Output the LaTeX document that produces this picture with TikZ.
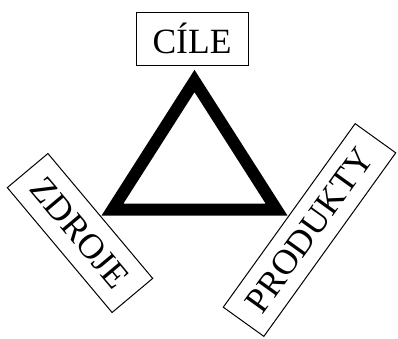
\documentclass[tikz,border=0pt]{standalone}
\usepackage{fontspec}
\setmainfont{Liberation Serif}
\begin{document}
\begin{tikzpicture}[x=1pt,y=-1pt,
  label box/.style={draw=black, line width=1pt, inner sep=0pt, font=\fontsize{35.5}{40}\selectfont}]
\useasboundingbox (0,0) rectangle (398,338);
\draw[line width=12pt, line join=miter] (194.5,81) -- (112.5,209.5) -- (276.5,209.5) -- cycle;
\node[label box, minimum width=112pt, minimum height=53pt] (cile) at (192,38.5) {CÍLE};
\node[label box, minimum width=163pt, minimum height=53pt, rotate=-50] (zdroje) at (80,233) {ZDROJE};
\node[label box, minimum width=226pt, minimum height=50pt, rotate=54.3] (produkty) at (309.5,230) {PRODUKTY};
\end{tikzpicture}
\end{document}
